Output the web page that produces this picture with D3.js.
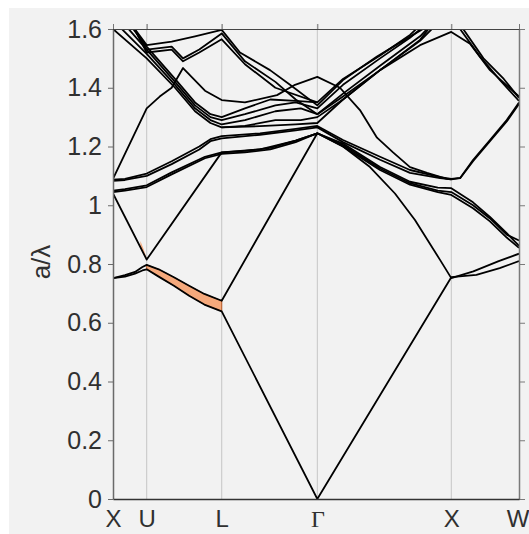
<!DOCTYPE html>
<html><head><meta charset="utf-8">
<script src="https://cdn.jsdelivr.net/npm/d3@7"></script>
<style>body{margin:0;background:#fff;} svg{display:block;}</style>
</head><body><svg id="chart" width="529" height="534"></svg>
<script>
// ---- Data ----
const kTicks = [0, 0.332, 1.071, 2.013, 3.333, 4.0];
const kLabels = ["X", "U", "L", "\u0393", "X", "W"];
const yTicks = [0, 0.2, 0.4, 0.6, 0.8, 1.0, 1.2, 1.4, 1.6];

// bands: [k along path, a/lambda]
const band1 = [[0,0.752],[0.118,0.757],[0.217,0.767],[0.29,0.778],[0.332,0.782],[0.45,0.757],[0.6,0.726],[0.75,0.692],[0.9,0.662],[1.071,0.639],[2.013,0],[3.333,0.755],[3.58,0.763],[3.81,0.786],[4,0.81]];
const band2 = [[0,0.752],[0.118,0.762],[0.217,0.773],[0.29,0.79],[0.332,0.797],[0.45,0.782],[0.6,0.755],[0.75,0.726],[0.9,0.698],[1.071,0.675],[2.013,1.245],[2.266,1.20],[2.532,1.13],[2.778,1.04],[2.975,0.95],[3.222,0.814],[3.333,0.752],[3.55,0.775],[3.8,0.81],[4,0.835]];
const band3 = [[0,1.04],[0.332,0.815],[1.071,1.18],[1.45,1.19],[1.8,1.22],[2.013,1.245],[2.266,1.205],[2.631,1.125],[2.926,1.075],[3.2,1.05],[3.333,1.045],[3.547,1.0],[3.714,0.955],[3.879,0.90],[4,0.88]];
const band4 = [[0,1.05],[0.118,1.055],[0.332,1.068],[0.578,1.112],[0.906,1.165],[1.071,1.18],[1.3,1.185],[1.55,1.195],[1.8,1.22],[2.013,1.245],[2.266,1.20],[2.631,1.12],[2.926,1.07],[3.2,1.045],[3.333,1.035],[3.547,0.99],[3.714,0.945],[3.879,0.89],[4,0.855]];
const band5 = [[0,1.045],[0.118,1.05],[0.332,1.062],[0.578,1.105],[0.906,1.16],[1.071,1.175],[1.3,1.18],[1.55,1.19],[1.8,1.215],[2.013,1.245],[2.266,1.21],[2.631,1.13],[2.926,1.08],[3.2,1.06],[3.333,1.058],[3.547,1.01],[3.714,0.96],[3.879,0.905],[4,0.862]];
const band6 = [[0,1.087],[0.118,1.09],[0.332,1.108],[0.578,1.15],[0.85,1.20],[0.96,1.225],[1.071,1.235],[1.448,1.245],[1.8,1.26],[2.013,1.27],[2.266,1.222],[2.631,1.165],[2.926,1.12],[3.222,1.096],[3.333,1.09],[3.42,1.093],[3.547,1.154],[3.714,1.222],[3.879,1.29],[4,1.35]];
const band7 = [[0,1.083],[0.118,1.086],[0.332,1.10],[0.578,1.14],[0.85,1.19],[0.96,1.218],[1.071,1.228],[1.448,1.24],[1.8,1.255],[2.013,1.265],[2.266,1.215],[2.631,1.155],[2.926,1.11],[3.222,1.092],[3.333,1.088],[3.42,1.092],[3.547,1.15],[3.714,1.218],[3.879,1.285],[4,1.345]];
const band8 = [[0,1.09],[0.332,1.33],[0.46,1.37],[0.578,1.40],[0.69,1.467],[0.906,1.39],[1.071,1.358],[1.3,1.35],[1.616,1.375],[1.793,1.41],[2.013,1.437],[2.236,1.40],[2.433,1.324],[2.601,1.23],[2.759,1.18],[2.926,1.13],[3.094,1.11],[3.288,1.09],[3.333,1.088]];
const band9 = [[0,1.60],[0.332,1.50],[0.611,1.40],[0.808,1.32],[0.96,1.28],[1.071,1.265],[1.3,1.27],[1.6,1.29],[1.85,1.29],[2.013,1.30],[2.266,1.36],[2.631,1.46],[3.025,1.56],[3.2,1.62]];
const band10 = [[0,1.63],[0.332,1.515],[0.611,1.41],[0.808,1.33],[0.96,1.29],[1.071,1.275],[1.3,1.29],[1.6,1.32],[1.85,1.33],[2.013,1.31],[2.266,1.38],[2.631,1.475],[3.025,1.575],[3.15,1.62]];
const band11 = [[0,1.66],[0.332,1.53],[0.611,1.42],[0.808,1.34],[0.96,1.30],[1.071,1.29],[1.3,1.31],[1.6,1.34],[1.8,1.35],[2.013,1.33],[2.266,1.41],[2.631,1.50],[2.926,1.57],[3.1,1.62]];
const band12 = [[0,1.69],[0.332,1.54],[0.611,1.43],[0.808,1.35],[0.96,1.31],[1.071,1.30],[1.3,1.33],[1.55,1.36],[1.8,1.355],[2.013,1.35],[2.266,1.43],[2.631,1.51],[2.926,1.58],[3.05,1.62]];
const band13 = [[0,1.70],[0.332,1.545],[0.578,1.557],[0.808,1.575],[1.071,1.597],[1.251,1.52],[1.547,1.46],[1.744,1.41],[2.013,1.34],[2.266,1.426],[2.601,1.506],[2.926,1.574],[3.054,1.60],[3.1,1.62]];
const band14 = [[0,1.72],[0.332,1.53],[0.578,1.54],[0.69,1.50],[0.85,1.53],[1.071,1.585],[1.3,1.49],[1.6,1.42],[1.8,1.36],[2.013,1.31],[2.266,1.37],[2.631,1.46],[3.025,1.563],[3.153,1.62]];
const band15 = [[0,1.74],[0.332,1.52],[0.578,1.53],[0.69,1.49],[0.85,1.52],[1.071,1.565],[1.3,1.48],[1.6,1.40],[2.013,1.35]];
const band16 = [[1.071,1.265],[1.5,1.27],[1.8,1.275],[2.013,1.28],[2.266,1.36],[2.631,1.46],[3.025,1.545],[3.333,1.59],[3.517,1.55],[3.714,1.46],[4,1.37]];
const band17 = [[3.35,1.68],[3.419,1.60],[3.616,1.506],[3.813,1.426],[4,1.355]];
const band18 = [[3.38,1.68],[3.45,1.60],[3.65,1.50],[3.85,1.43],[4,1.365]];
const bands = [band1,band2,band3,band4,band5,band6,band7,band8,band9,band10,band11,band12,band13,band14,band15,band16,band17,band18];

// highlighted (orange) band between U and L
const hiK = [0.332, 0.45, 0.6, 0.75, 0.9, 1.071];
const hiLow = [0.782, 0.757, 0.726, 0.692, 0.662, 0.639];
const hiHigh = [0.797, 0.782, 0.755, 0.726, 0.698, 0.675];
// small wedge near U
const wedgeK = [0.27, 0.30, 0.332];
const wedgeLow = [0.857, 0.837, 0.815];
const wedgeHigh = [0.878, 0.852, 0.82];

// ---- Drawing ----
const svg = d3.select("#chart");
svg.append("rect").attr("x", 9).attr("y", 8).attr("width", 520).attr("height", 526).attr("fill", "#f2f2f2");

const x = d3.scaleLinear().domain([0, 4]).range([113, 519]);
const y = d3.scaleLinear().domain([0, 1.6]).range([499, 29]);

svg.append("defs").append("clipPath").attr("id", "clip")
  .append("rect").attr("x", 113).attr("y", 29).attr("width", 406).attr("height", 470);

// gridlines
svg.append("g").selectAll("line").data(kTicks.slice(1, 5)).join("line")
  .attr("x1", d => x(d)).attr("x2", d => x(d)).attr("y1", 24).attr("y2", 499)
  .attr("stroke", "#c6c6c6").attr("stroke-width", 1);

const plot = svg.append("g").attr("clip-path", "url(#clip)");

const area = d3.area().x(d => x(d.k)).y0(d => y(d.lo)).y1(d => y(d.hi));
plot.append("path").datum(hiK.map((k, i) => ({k, lo: hiLow[i], hi: hiHigh[i]})))
  .attr("d", area).attr("fill", "#f5a97c").attr("stroke", "#b85a26").attr("stroke-width", 1);
plot.append("path").datum(wedgeK.map((k, i) => ({k, lo: wedgeLow[i], hi: wedgeHigh[i]})))
  .attr("d", area).attr("fill", "#f5a97c");

const line = d3.line().x(d => x(d[0])).y(d => y(d[1]));
plot.selectAll("path.band").data(bands).join("path").attr("class", "band")
  .attr("d", line).attr("fill", "none").attr("stroke", "#000")
  .attr("stroke-width", 1.8).attr("stroke-linejoin", "round");

const font = "'Liberation Sans', Arial, sans-serif";

// left axis
const gl = svg.append("g").attr("transform", "translate(113,0)")
  .call(d3.axisLeft(y).tickValues(yTicks).tickSize(5).tickSizeOuter(0).tickPadding(6).tickFormat(d3.format("~g")));
gl.select(".domain").attr("stroke", "#6a6a6a").attr("stroke-width", 1.5);
gl.selectAll(".tick line").attr("stroke", "#6a6a6a");
gl.selectAll("text").attr("font-size", 25).attr("font-family", font).attr("fill", "#303030");

// right axis
const gr = svg.append("g").attr("transform", "translate(519,0)")
  .call(d3.axisRight(y).tickValues(yTicks).tickSize(6).tickSizeOuter(0).tickFormat(""));
gr.select(".domain").attr("stroke", "#7a7a7a").attr("stroke-width", 1.5);
gr.selectAll(".tick line").attr("stroke", "#7a7a7a");

// top axis
const gt = svg.append("g").attr("transform", "translate(0,29)")
  .call(d3.axisTop(x).tickValues(kTicks).tickSize(5).tickSizeOuter(0).tickFormat(""));
gt.select(".domain").attr("stroke", "#444").attr("stroke-width", 1.2);
gt.selectAll(".tick line").attr("stroke", "#777");

// bottom axis
const gb = svg.append("g").attr("transform", "translate(0,499)")
  .call(d3.axisBottom(x).tickValues(kTicks).tickSize(0).tickSizeOuter(0).tickPadding(11).tickFormat((d, i) => kLabels[i]));
gb.select(".domain").attr("stroke", "#333").attr("stroke-width", 1.5);
gb.selectAll("text").attr("font-size", 24).attr("font-family", font).attr("fill", "#303030");
gb.selectAll("text").filter((d, i) => kLabels[i] === "\u0393").attr("font-family", "'Liberation Serif', 'DejaVu Serif', serif");
gb.selectAll("text").filter((d, i) => i === kLabels.length - 1).attr("text-anchor", "end").attr("dx", 10);

// y title
svg.append("text").attr("transform", "translate(50,262) rotate(-90)")
  .attr("text-anchor", "middle").attr("font-size", 26).attr("font-family", font).attr("fill", "#303030")
  .text("a/\u03bb");
</script></body></html>
